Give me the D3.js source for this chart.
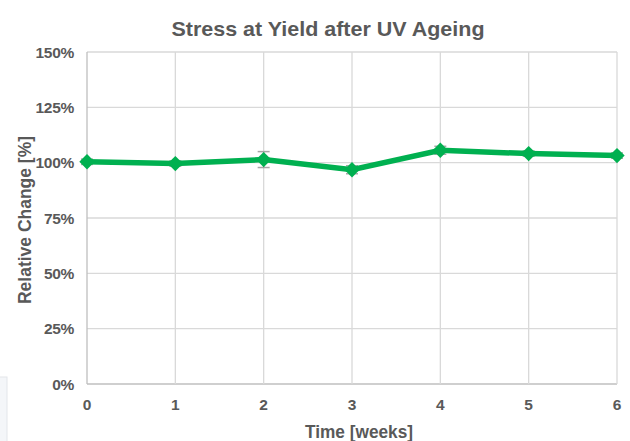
<!DOCTYPE html>
<html>
<head>
<meta charset="utf-8">
<script src="https://cdn.jsdelivr.net/npm/d3@7"></script>
<style>
  body { margin: 0; background: #fff; }
  text { font-family: "Liberation Sans", Arial, sans-serif; font-weight: bold; fill: #595959; }
</style>
</head>
<body>
<svg id="chart" width="630" height="441"></svg>
<script>
const weeks = [0, 1, 2, 3, 4, 5, 6]
const relChange = [100.4, 99.6, 101.4, 96.8, 105.6, 104.1, 103.2]
const errors = [1.2, 1.2, 3.6, 1.8, 1.8, 1.2, 1.2]
const yTicks = [0, 25, 50, 75, 100, 125, 150]

const svg = d3.select("#chart")
const m = {left: 87, right: 13, top: 52, bottom: 57}
const W = 630, H = 441

const x = d3.scaleLinear().domain([0, 6]).range([m.left, W - m.right])
const y = d3.scaleLinear().domain([0, 150]).range([H - m.bottom, m.top])

// faint box in bottom left corner
svg.append("rect").attr("x", -1).attr("y", 377).attr("width", 8).attr("height", 70)
  .attr("fill", "#f4f6f9").attr("stroke", "#e3e6ea")

// grid
const g = svg.append("g")
g.selectAll(".hg").data(yTicks).enter().append("line")
  .attr("x1", x(0)).attr("x2", x(6))
  .attr("y1", d => y(d)).attr("y2", d => y(d))
  .attr("stroke", d => d === 0 ? "#bfbfbf" : "#d9d9d9").attr("stroke-width", 1.3)
g.selectAll(".vg").data(weeks).enter().append("line")
  .attr("x1", d => x(d)).attr("x2", d => x(d))
  .attr("y1", y(0)).attr("y2", y(150))
  .attr("stroke", d => d === 0 ? "#bfbfbf" : "#d9d9d9").attr("stroke-width", 1.3)

// tick labels
svg.selectAll(".yl").data(yTicks).enter().append("text")
  .attr("x", 74).attr("y", d => y(d) + 5.5)
  .attr("text-anchor", "end").attr("font-size", 15.5).attr("letter-spacing", -0.3)
  .text(d => d + "%")
svg.selectAll(".xl").data(weeks).enter().append("text")
  .attr("x", d => x(d)).attr("y", 409.5)
  .attr("text-anchor", "middle").attr("font-size", 15.5)
  .text(d => d)

// titles
svg.append("text").attr("x", 328).attr("y", 36).attr("text-anchor", "middle")
  .attr("font-size", 21).attr("textLength", 313).attr("lengthAdjust", "spacingAndGlyphs")
  .text("Stress at Yield after UV Ageing")
svg.append("text").attr("x", 359).attr("y", 438).attr("text-anchor", "middle")
  .attr("font-size", 18).attr("textLength", 108).attr("lengthAdjust", "spacingAndGlyphs")
  .text("Time [weeks]")
svg.append("text").attr("transform", "translate(31,220) rotate(-90)")
  .attr("text-anchor", "middle").attr("font-size", 18)
  .attr("textLength", 168).attr("lengthAdjust", "spacingAndGlyphs")
  .text("Relative Change [%]")

// error bars
const eb = svg.append("g").attr("stroke", "#a6a6a6").attr("stroke-width", 1.5)
weeks.forEach((w, i) => {
  const v = relChange[i], e = errors[i]
  eb.append("line").attr("x1", x(w)).attr("x2", x(w)).attr("y1", y(v - e)).attr("y2", y(v + e))
  ;[v - e, v + e].forEach(t => {
    eb.append("line").attr("x1", x(w) - 6).attr("x2", x(w) + 6).attr("y1", y(t)).attr("y2", y(t))
  })
})

// line
const line = d3.line().x((d, i) => x(weeks[i])).y(d => y(d))
svg.append("path").datum(relChange).attr("d", line)
  .attr("fill", "none").attr("stroke", "#00b050").attr("stroke-width", 5.5)

// markers
svg.selectAll(".mk").data(relChange).enter().append("path")
  .attr("d", d3.symbol().type(d3.symbolDiamond2).size(150))
  .attr("transform", (d, i) => `translate(${x(weeks[i])},${y(d)})`)
  .attr("fill", "#00b050")
</script>
</body>
</html>
